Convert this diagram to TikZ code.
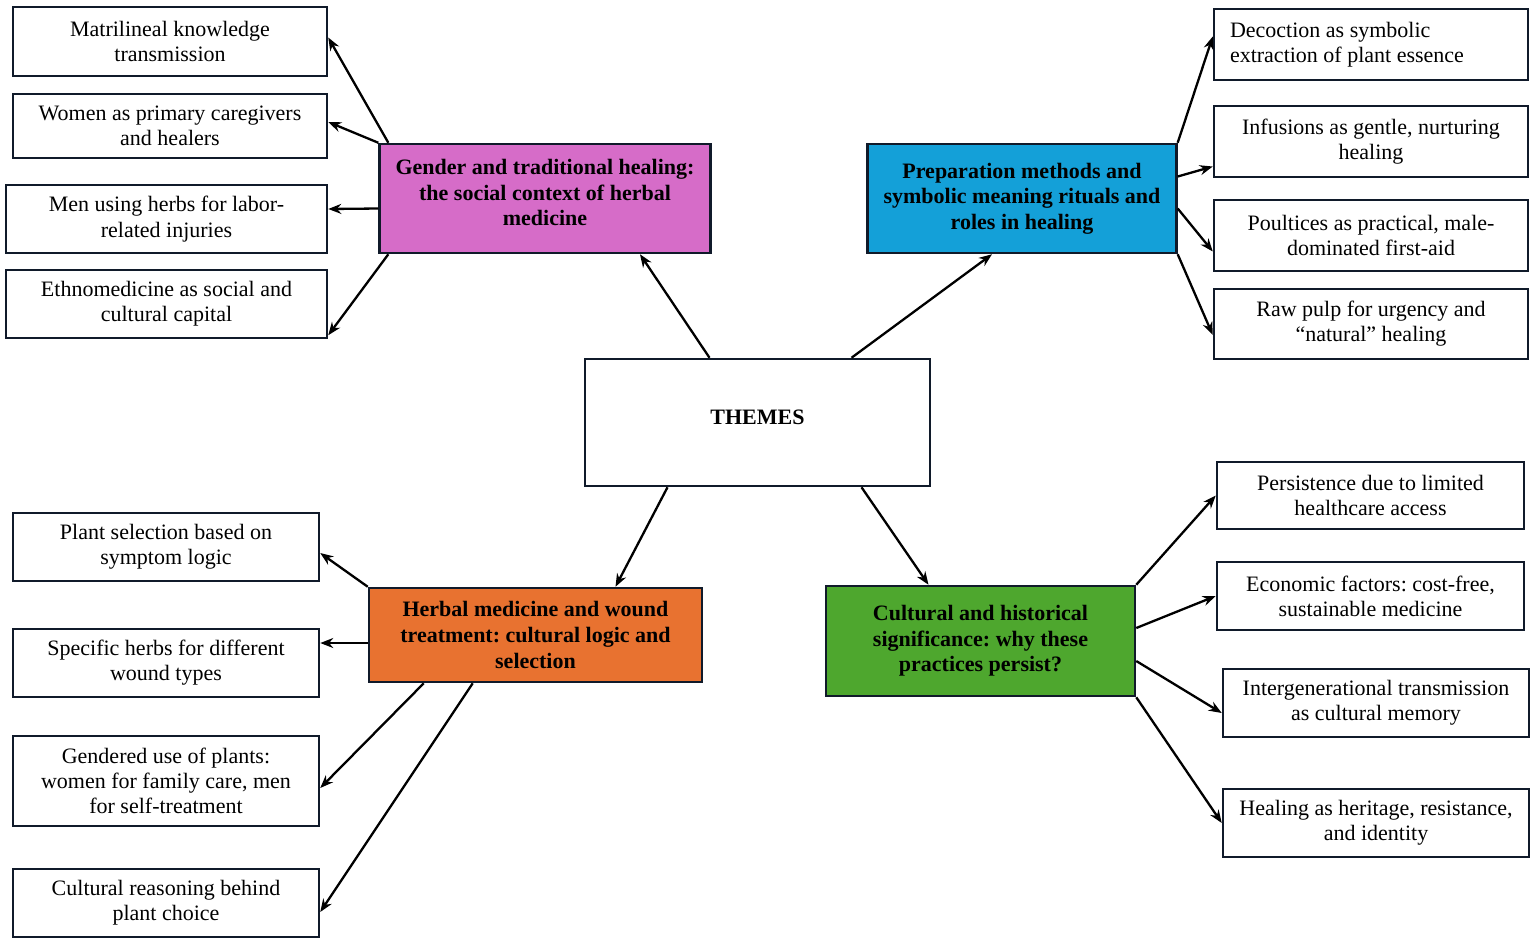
\documentclass[tikz,border=0pt]{standalone}
\usepackage{fontspec}
\setmainfont{Liberation Serif}
\usetikzlibrary{arrows.meta}

\definecolor{rimcol}{RGB}{16,26,42}
\definecolor{pinkcol}{RGB}{214,108,200}
\definecolor{bluecol}{RGB}{20,160,216}
\definecolor{orangecol}{RGB}{232,114,48}
\definecolor{greencol}{RGB}{78,167,46}

\tikzset{
  leaf/.style={draw=rimcol, line width=1.25pt, fill=white, align=center,
               inner xsep=8pt, font=\fontsize{11}{12.6}\selectfont},
  theme/.style={leaf, font=\fontsize{11}{12.8}\selectfont\bfseries},
  link/.style={->, line width=1.15pt, black}
}

\begin{document}
\frenchspacing
\begin{tikzpicture}[x=0.5pt,y=-0.5pt,>={Stealth[length=6.5pt,width=5pt]}]

  \useasboundingbox (0,0) rectangle (1535,943);

  \begin{scope}   % stredni uzel a ctyri temata

    \node[theme, minimum width=172.5pt, minimum height=63.5pt]
         (themes) at (757.5,422.5) {THEMES\\[-8pt]\mbox{}};

    \node[theme, fill=pinkcol, minimum width=165pt, minimum height=54.5pt]
         (gend) at (545,198.5)
         {Gender and traditional healing:\\the social context of herbal\\medicine\\[-7pt]\mbox{}};
    \node[theme, fill=bluecol, minimum width=154pt, minimum height=54.5pt]
         (prep) at (1022,198.5)
         {Preparation methods and\\symbolic meaning rituals and\\roles in healing};
    \node[theme, fill=orangecol, minimum width=166.5pt, minimum height=47pt]
         (herb) at (535.5,635)
         {Herbal medicine and wound\\treatment: cultural logic and\\selection};
    \node[theme, fill=greencol, minimum width=154.5pt, minimum height=55pt]
         (cult) at (980.5,641)
         {Cultural and historical\\significance: why these\\practices persist?};

    \draw[link] ([xshift=-24pt]themes.north) -- ([xshift=47.5pt]gend.south);
    \draw[link] ([xshift=47pt]themes.north)  -- ([xshift=-15pt]prep.south);
    \draw[link] ([xshift=-45pt]themes.south) -- ([xshift=40pt]herb.north);
    \draw[link] ([xshift=52pt]themes.south)  -- ([xshift=-26pt]cult.north);

  \end{scope}

  \begin{scope}   % vlevo nahore

    \def\Lx{170};
    \node[leaf, minimum width=157pt, minimum height=34.5pt] (L1) at (\Lx,41.5)
         {Matrilineal knowledge\\transmission};
    \node[leaf, minimum width=157pt, minimum height=32pt] (L2) at (\Lx,126)
         {Women as primary caregivers\\and healers};
    \node[leaf, minimum width=160.5pt, minimum height=34pt] (L3) at (\Lx-3.5,219)
         {Men using herbs for labor-\\related injuries};
    \node[leaf, minimum width=160.5pt, minimum height=34pt] (L4) at (\Lx-3.5,304)
         {Ethnomedicine as social and\\cultural capital};

    \draw[link] ([xshift=5pt]gend.north west) -- ([yshift=2pt]L1.east);
    \draw[link] (gend.north west) -- ([yshift=2pt]L2.east);
    \draw[link] ([yshift=-5pt]gend.west) -- ([yshift=5pt]L3.east);
    \draw[link] ([xshift=5pt]gend.south west) -- ([yshift=2pt]L4.south east);

  \end{scope}

  \begin{scope}   % vpravo nahore

    \def\Rx{1371};
    \node[leaf, minimum width=157pt, minimum height=35.5pt, align=flush left,
          text width=141pt] (R1) at (\Rx,44.5)
         {Decoction as symbolic\\extraction of plant essence};
    \node[leaf, minimum width=157pt, minimum height=35.5pt] (R2) at (\Rx,141.5)
         {Infusions as gentle, nurturing\\healing};
    \node[leaf, minimum width=157pt, minimum height=35.5pt] (R3) at (\Rx,235.5)
         {Poultices as practical, male-\\dominated first-aid};
    \node[leaf, minimum width=157pt, minimum height=35pt] (R4) at (\Rx,324)
         {Raw pulp for urgency and\\“natural” healing};

    \draw[link] (prep.north east) -- ([yshift=4pt]R1.west);
    \draw[link] ([yshift=11pt]prep.east) -- ([yshift=-12.5pt]R2.west);
    \draw[link] ([yshift=-5pt]prep.east) -- ([yshift=-8pt]R3.west);
    \draw[link] (prep.south east) -- ([yshift=-5.5pt]R4.west);

  \end{scope}

  \begin{scope}   % vlevo dole

    \def\Bx{166};
    \node[leaf, minimum width=153pt, minimum height=34pt] (LB1) at (\Bx,547)
         {Plant selection based on\\symptom logic};
    \node[leaf, minimum width=153pt, minimum height=34pt] (LB2) at (\Bx,663)
         {Specific herbs for different\\wound types};
    \node[leaf, minimum width=153pt, minimum height=45pt] (LB3) at (\Bx,781)
         {Gendered use of plants:\\women for family care, men\\for self-treatment};
    \node[leaf, minimum width=153pt, minimum height=34pt] (LB4) at (\Bx,903)
         {Cultural reasoning behind\\plant choice};

    \draw[link] (herb.north west) -- ([yshift=-3pt]LB1.east);
    \draw[link] ([yshift=-4pt]herb.west) -- ([yshift=10pt]LB2.east);
    \draw[link] ([xshift=28pt]herb.south west) -- ([yshift=-3.5pt]LB3.east);
    \draw[link] ([xshift=52.5pt]herb.south west) -- ([yshift=-4.5pt]LB4.east);

  \end{scope}

  \begin{scope}   % vpravo dole

    \node[leaf, minimum width=153.5pt, minimum height=33.5pt] (RB1) at (1370.5,495.5)
         {Persistence due to limited\\healthcare access};
    \node[leaf, minimum width=153.5pt, minimum height=34pt] (RB2) at (1370.5,596)
         {Economic factors: cost-free,\\sustainable medicine};
    \node[leaf, minimum width=153pt, minimum height=34pt] (RB3) at (1376,703)
         {Intergenerational transmission\\as cultural memory};
    \node[leaf, minimum width=153pt, minimum height=34pt] (RB4) at (1376,823)
         {Healing as heritage, resistance,\\and identity};

    \draw[link] (cult.north east) -- (RB1.west);
    \draw[link] ([yshift=6.5pt]cult.east) -- (RB2.west);
    \draw[link] ([yshift=-10pt]cult.east) -- ([yshift=-5pt]RB3.west);
    \draw[link] (cult.south east) -- (RB4.west);

  \end{scope}

\end{tikzpicture}
\end{document}
